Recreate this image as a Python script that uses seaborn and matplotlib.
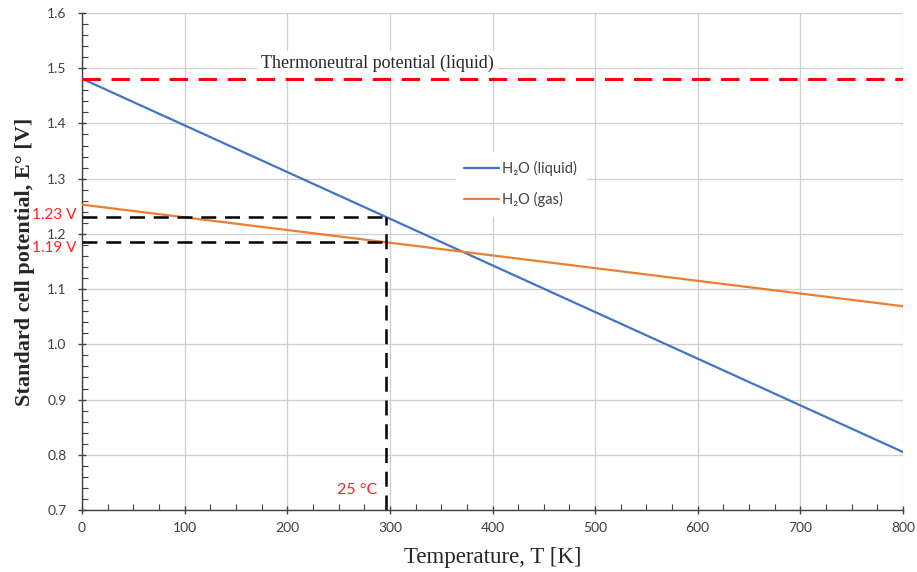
import numpy as np
import pandas as pd
import matplotlib
matplotlib.use("Agg")
import matplotlib.pyplot as plt
import seaborn as sns
from matplotlib.ticker import MultipleLocator, FormatStrFormatter

# Data
temperature = [0, 800]
e_liquid = [1.481, 0.805]
e_gas = [1.253, 1.069]
thermoneutral = 1.481
t_ref = 296
e_ref_liquid = 1.230
e_ref_gas = 1.186
series_names = ["H\u2082O (liquid)", "H\u2082O (gas)"]

sns.set_style("white")
plt.rcParams['font.family'] = ['Lato', 'DejaVu Sans']

df = pd.DataFrame({
    "T": temperature * 2,
    "E": e_liquid + e_gas,
    "series": [series_names[0]] * len(temperature) + [series_names[1]] * len(temperature),
})

fig = plt.figure(figsize=(9.17, 5.72), dpi=100)
ax = fig.add_axes([82/917, 1 - 510/572, (903-82)/917, (510-13)/572])

sns.lineplot(data=df, x="T", y="E", hue="series",
             palette={series_names[0]: "#4472C4", series_names[1]: "#ED7D31"},
             linewidth=1.6, ax=ax, legend=True, zorder=4)

# Thermoneutral line
ax.axhline(thermoneutral, color="#FF0000", lw=2.2, dashes=(6, 3.5), zorder=5)
# Reference dashed lines
ax.plot([0, t_ref], [e_ref_liquid, e_ref_liquid], color="black", lw=1.8, dashes=(6, 3.5), zorder=5)
ax.plot([0, t_ref], [e_ref_gas, e_ref_gas], color="black", lw=1.8, dashes=(6, 3.5), zorder=5)
ax.plot([t_ref, t_ref], [0.7, e_ref_liquid], color="black", lw=1.8, dashes=(6, 3.5), zorder=5)

ax.set_xlim(0, 800)
ax.set_ylim(0.7, 1.6)
ax.xaxis.set_major_locator(MultipleLocator(100))
ax.xaxis.set_minor_locator(MultipleLocator(25))
ax.yaxis.set_major_locator(MultipleLocator(0.1))
ax.yaxis.set_minor_locator(MultipleLocator(0.02))
ax.yaxis.set_major_formatter(FormatStrFormatter("%.1f"))

ax.grid(True, which="major", color="#CFCFCF", lw=0.9, zorder=0)
ax.set_axisbelow(True)
for s in ["top", "right"]:
    ax.spines[s].set_visible(False)
for s in ["left", "bottom"]:
    ax.spines[s].set_color("#404040")
    ax.spines[s].set_linewidth(1.0)

ax.tick_params(which="major", direction="inout", length=6, width=1, color="#404040",
               labelsize=10, labelcolor="#404040", left=True, bottom=True)
ax.tick_params(which="minor", direction="in", length=4, width=0.8, color="#404040",
               left=True, bottom=True)
ax.tick_params(axis="x", pad=6)
ax.tick_params(axis="y", pad=8)

ax.set_xlabel("Temperature, T [K]", family="Liberation Serif", fontsize=16.5, labelpad=9)
ax.set_ylabel("Standard cell potential, E\u00b0 [V]", family="Liberation Serif",
              fontsize=16, fontweight="bold", labelpad=9)

# Annotations
ax.text(288, 1.508, "Thermoneutral potential (liquid)", family="Liberation Serif",
        fontsize=13, ha="center", va="center", zorder=6,
        bbox=dict(facecolor="white", edgecolor="none", pad=3))
ax.text(-5, 1.234, "1.23 V", color="#FF2020", fontsize=11, ha="right", va="center",
        clip_on=False)
ax.text(-5, 1.175, "1.19 V", color="#FF2020", fontsize=11, ha="right", va="center",
        clip_on=False)
ax.text(288, 0.736, "25 \u00b0C", color="#FF2020", fontsize=11.5, ha="right", va="center")

leg = ax.legend(loc="center left", bbox_to_anchor=(0.455, 0.656), frameon=True,
                fontsize=10.5, handlelength=2.4, labelspacing=1.1, handletextpad=0.2,
                borderpad=0.6, borderaxespad=0)
leg.get_frame().set_facecolor("white")
leg.get_frame().set_edgecolor("white")
leg.get_frame().set_alpha(1)
for t in leg.get_texts():
    t.set_color("#404040")

fig.savefig("out.png", dpi=100)
